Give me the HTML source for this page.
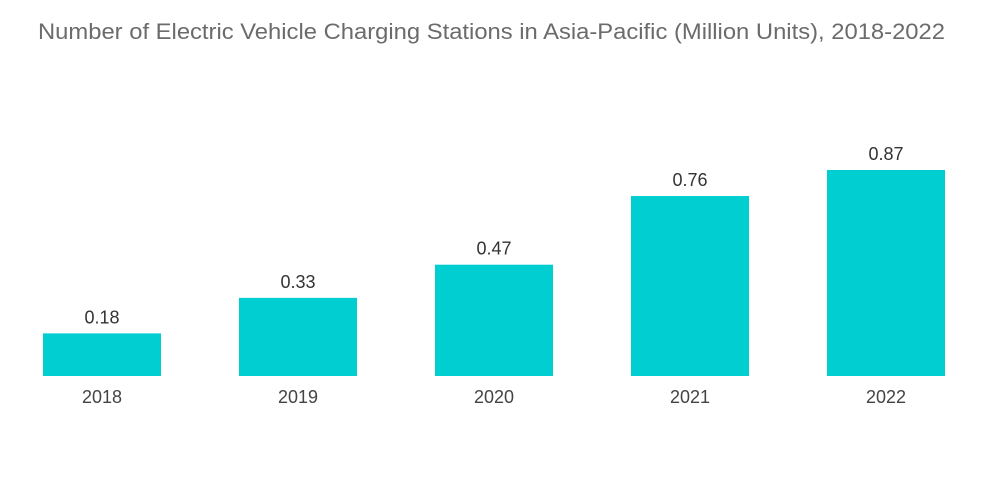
<!DOCTYPE html>
<html><head><meta charset="utf-8"><style>
body{margin:0;background:#fff;}
svg{display:block;font-family:"Liberation Sans",sans-serif;}
</style></head><body>
<svg id="chart" width="1000" height="504">
<text x="38" y="39" font-size="22" textLength="907" lengthAdjust="spacingAndGlyphs" fill="#6b6b6b">Number of Electric Vehicle Charging Stations in Asia-Pacific (Million Units), 2018-2022</text>
</svg>
<script>
const categories=["2018","2019","2020","2021","2022"];
const values=[0.18,0.33,0.47,0.76,0.87];
const valueLabels=["0.18","0.33","0.47","0.76","0.87"];
const svg=document.getElementById('chart');
const NS="http://www.w3.org/2000/svg";
const baseY=376, scale=236.8, x0=43, step=196, bw=118;
function xPos(i){return x0+i*step;}
function yPos(v){return baseY-v*scale;}
categories.forEach((c,i)=>{
  const r=document.createElementNS(NS,'rect');
  r.setAttribute('x',xPos(i));r.setAttribute('y',yPos(values[i]));
  r.setAttribute('width',bw);r.setAttribute('height',baseY-yPos(values[i]));
  r.setAttribute('fill','#00ced1');
  
  
  svg.appendChild(r);
  const t=document.createElementNS(NS,'text');
  t.setAttribute('x',xPos(i)+bw/2);t.setAttribute('y',yPos(values[i])-10);
  t.setAttribute('text-anchor','middle');t.setAttribute('font-size','18');t.setAttribute('fill','#333');
  t.textContent=valueLabels[i];
  
  
  svg.appendChild(t);
  const l=document.createElementNS(NS,'text');
  l.setAttribute('x',xPos(i)+bw/2);l.setAttribute('y',403);
  l.setAttribute('text-anchor','middle');l.setAttribute('font-size','18');l.setAttribute('fill','#444');
  l.textContent=c;
  
  
  svg.appendChild(l);
});
</script>
</body></html>
